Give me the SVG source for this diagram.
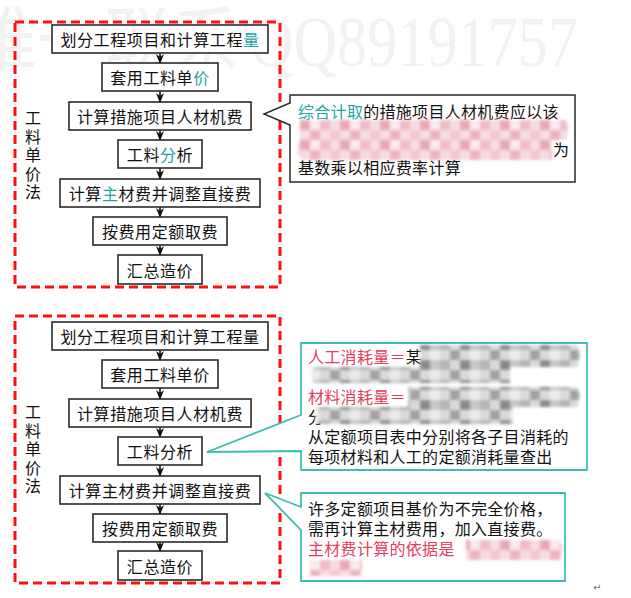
<svg xmlns="http://www.w3.org/2000/svg" width="631" height="598" viewBox="0 0 631 598">
<style>
.wm{font-family:"Liberation Serif","Noto Sans CJK SC",serif;fill:#f2f2f2;font-size:72px}
.frame{fill:none;stroke:#ff1010;stroke-width:3;stroke-dasharray:9 5}
.box{fill:#fff;stroke:#2a2a2a;stroke-width:1.6}
.bt{font-family:"Noto Sans CJK SC","Noto Sans",sans-serif;font-size:16px;fill:#111;text-anchor:middle;dominant-baseline:central;letter-spacing:0.6px}
.vt{font-family:"Noto Sans CJK SC","Noto Sans",sans-serif;font-size:16px;fill:#111;text-anchor:middle;dominant-baseline:central}
.ct{font-family:"Noto Sans CJK SC","Noto Sans",sans-serif;font-size:16px;fill:#111;dominant-baseline:central;letter-spacing:0.3px}
.tl{fill:#25a3a3}
.rd{fill:#e4405c}
.arr{stroke:#111;stroke-width:1.6;fill:none;marker-end:url(#ah)}
.c1{fill:#fff;stroke:#2a2a2a;stroke-width:1.5}
.c2{fill:#fff;stroke:#3fbdb4;stroke-width:1.8}
</style>
<defs>
<marker id="ah" markerUnits="userSpaceOnUse" markerWidth="10" markerHeight="8" viewBox="0 0 10 8" refX="9" refY="4" orient="auto">
<path d="M0,0 L10,4 L0,8 L3,4 z" fill="#111"/>
</marker>
<pattern id="pm" width="40" height="20" patternUnits="userSpaceOnUse">
<rect width="40" height="20" fill="#f6dbe1"/>
<rect x="0" y="0" width="10" height="10" fill="#efbcc7"/>
<rect x="20" y="0" width="10" height="10" fill="#eaa7b5"/>
<rect x="10" y="10" width="10" height="10" fill="#f2c7d0"/>
<rect x="30" y="10" width="10" height="10" fill="#edb2bf"/>
<rect x="30" y="0" width="10" height="10" fill="#fae9ed"/>
</pattern>
<pattern id="gm" width="40" height="20" patternUnits="userSpaceOnUse">
<rect width="40" height="20" fill="#dadada"/>
<rect x="0" y="0" width="10" height="10" fill="#b4b4b4"/>
<rect x="20" y="0" width="10" height="10" fill="#8a8a8a"/>
<rect x="10" y="10" width="10" height="10" fill="#a2a2a2"/>
<rect x="30" y="10" width="10" height="10" fill="#ebebeb"/>
<rect x="30" y="0" width="10" height="10" fill="#c6c6c6"/>
</pattern>
<filter id="soft" x="-5%" y="-25%" width="110%" height="150%"><feGaussianBlur stdDeviation="1.8"/></filter>
</defs>

<g id="watermark">
<text class="wm" x="-30" y="66" textLength="270" lengthAdjust="spacingAndGlyphs">唯一联系</text>
<text class="wm" x="250" y="66" textLength="328" lengthAdjust="spacingAndGlyphs">QQ89191757</text>
</g>

<!-- top section -->
<g id="frame-top"><rect class="frame" x="15" y="22" width="265" height="265"/></g>
<g id="label-top">
<text class="vt" x="33" y="117">工</text>
<text class="vt" x="33" y="135.5">料</text>
<text class="vt" x="33" y="154">单</text>
<text class="vt" x="33" y="172.5">价</text>
<text class="vt" x="33" y="191">法</text>
</g>

<g id="connectors-top">
<line class="arr" x1="160" y1="53" x2="160" y2="63"/>
<line class="arr" x1="160" y1="91" x2="160" y2="102"/>
<line class="arr" x1="160" y1="130" x2="160" y2="140"/>
<line class="arr" x1="160" y1="168" x2="160" y2="179"/>
<line class="arr" x1="160" y1="207" x2="160" y2="217"/>
<line class="arr" x1="160" y1="245" x2="160" y2="255"/>
</g>

<g id="t1"><rect class="box" x="52" y="25" width="216" height="28"/><text class="bt" x="160" y="39">划分工程项目和计算工程<tspan class="tl">量</tspan></text></g>
<g id="t2"><rect class="box" x="102" y="63" width="116" height="28"/><text class="bt" x="160" y="77">套用工料单<tspan class="tl">价</tspan></text></g>
<g id="t3"><rect class="box" x="69" y="102" width="182" height="28"/><text class="bt" x="160" y="116">计算措施项目人材机费</text></g>
<g id="t4"><rect class="box" x="118" y="140" width="84" height="28"/><text class="bt" x="160" y="154">工料<tspan class="tl">分</tspan>析</text></g>
<g id="t5"><rect class="box" x="60" y="179" width="200" height="28"/><text class="bt" x="160" y="193">计算<tspan class="tl">主</tspan>材费并调整直接费</text></g>
<g id="t6"><rect class="box" x="93" y="217" width="134" height="28"/><text class="bt" x="160" y="231">按费用定额取费</text></g>
<g id="t7"><rect class="box" x="118" y="255" width="84" height="29"/><text class="bt" x="160" y="269.5">汇总造价</text></g>

<g id="callout-top">
<path class="c1" d="M290,95 H575 V182 H290 V125 L264,114 L290,103 Z"/>
<text class="ct" x="298" y="111"><tspan class="tl">综合计取</tspan>的措施项目人材机费应以该</text>
<text class="ct" x="553" y="149">为</text>
<path d="M300,120 H566 Q570,130 566,140 H552 V160 H302 Q294,150 300,140 Z" fill="url(#pm)" filter="url(#soft)"/>
<text class="ct" x="298" y="167">基数乘以相应费率计算</text>
</g>

<!-- bottom section -->
<g id="frame-bottom"><rect class="frame" x="15" y="316" width="265" height="267"/></g>
<g id="label-bottom">
<text class="vt" x="33" y="411">工</text>
<text class="vt" x="33" y="429.5">料</text>
<text class="vt" x="33" y="448">单</text>
<text class="vt" x="33" y="466.5">价</text>
<text class="vt" x="33" y="485">法</text>
</g>

<g id="connectors-bottom">
<line class="arr" x1="160" y1="350" x2="160" y2="360"/>
<line class="arr" x1="160" y1="388" x2="160" y2="399"/>
<line class="arr" x1="160" y1="427" x2="160" y2="437"/>
<line class="arr" x1="160" y1="465" x2="160" y2="476"/>
<line class="arr" x1="160" y1="504" x2="160" y2="514"/>
<line class="arr" x1="160" y1="542" x2="160" y2="551"/>
</g>

<g id="b1"><rect class="box" x="52" y="322" width="216" height="28"/><text class="bt" x="160" y="336">划分工程项目和计算工程量</text></g>
<g id="b2"><rect class="box" x="102" y="360" width="116" height="28"/><text class="bt" x="160" y="374">套用工料单价</text></g>
<g id="b3"><rect class="box" x="69" y="399" width="182" height="28"/><text class="bt" x="160" y="413">计算措施项目人材机费</text></g>
<g id="b4"><rect class="box" x="118" y="437" width="84" height="28"/><text class="bt" x="160" y="451">工料分析</text></g>
<g id="b5"><rect class="box" x="60" y="476" width="200" height="28"/><text class="bt" x="160" y="490">计算主材费并调整直接费</text></g>
<g id="b6"><rect class="box" x="93" y="514" width="134" height="28"/><text class="bt" x="160" y="528">按费用定额取费</text></g>
<g id="b7"><rect class="box" x="118" y="551" width="84" height="29"/><text class="bt" x="160" y="565.5">汇总造价</text></g>

<g id="callout-mid">
<path class="c2" d="M301,343 H587 V470 H301 V451 L207,452 L301,415 Z"/>
<text class="ct" x="308" y="356"><tspan class="rd">人工消耗量＝</tspan>某</text>
<text class="ct" x="308" y="396"><tspan class="rd">材料消耗量＝</tspan></text>
<text class="ct" x="308" y="416">分</text>
<path d="M420,345 H577 Q582,355 577,367 H510 V383 H314 Q308,375 314,367 H420 Z" fill="url(#gm)" filter="url(#soft)"/>
<path d="M408,387 H577 Q582,396 577,407 H513 V424 H318 Q312,416 318,407 H408 Z" fill="url(#gm)" filter="url(#soft)"/>
<text class="ct" x="308" y="436">从定额项目表中分别将各子目消耗的</text>
<text class="ct" x="308" y="456">每项材料和人工的定额消耗量查出</text>
</g>

<g id="callout-bottom">
<path class="c2" d="M301,493 H565 V581 H301 V530 L265,493 L301,507 Z"/>
<text class="ct" x="308" y="508">许多定额项目基价为不完全价格，</text>
<text class="ct" x="308" y="528">需再计算主材费用，加入直接费。</text>
<text class="ct rd" x="308" y="548">主材费计算的依据是</text>
<path d="M466,540 H560 Q565,550 560,560 H362 V576 H310 V560 H466 Z" fill="url(#pm)" filter="url(#soft)"/>
</g>

<text x="593" y="591" font-family="DejaVu Sans,sans-serif" font-size="10" fill="#777">↵</text>
</svg>
